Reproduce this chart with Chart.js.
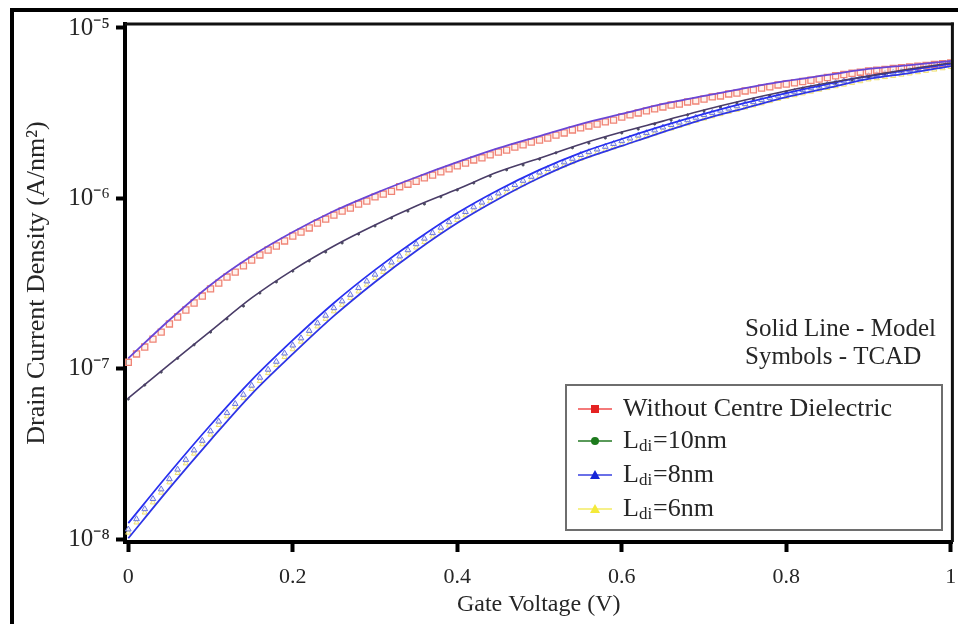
<!DOCTYPE html>
<html>
<head>
<meta charset="utf-8">
<title>Drain Current Density vs Gate Voltage</title>
<script src="https://cdn.jsdelivr.net/npm/chart.js@4.4.0/dist/chart.umd.min.js"></script>
<style>
  html, body { margin: 0; padding: 0; background: #fff; }
  #wrap { position: relative; width: 958px; height: 624px; }
</style>
</head>
<body>
<div id="wrap"><canvas id="idChart" width="958" height="624"></canvas></div>
<script>
// ======= data =======
const seriesNames = ['Without Centre Dielectric', 'Ldi=10nm', 'Ldi=8nm', 'Ldi=6nm'];

const xTicks = [0, 0.2, 0.4, 0.6, 0.8, 1];
const yTicks = [1e-8, 1e-7, 1e-6, 1e-5];
const yTickLabels = ['10⁻⁸', '10⁻⁷', '10⁻⁶', '10⁻⁵'];

// model (solid lines)
const vgModel = [0, 0.05, 0.1, 0.15, 0.2, 0.25, 0.3, 0.35, 0.4, 0.45, 0.5,
                 0.55, 0.6, 0.65, 0.7, 0.75, 0.8, 0.85, 0.9, 0.95, 1];
const modelNoDiel = [1.15e-7, 1.93e-7, 3.10e-7, 4.58e-7, 6.34e-7, 8.42e-7, 1.07e-6, 1.33e-6, 1.63e-6, 1.97e-6, 2.32e-6,
                     2.73e-6, 3.13e-6, 3.58e-6, 3.99e-6, 4.44e-6, 4.89e-6, 5.30e-6, 5.75e-6, 6.06e-6, 6.40e-6];
const model10 = [6.72e-8, 1.06e-7, 1.66e-7, 2.60e-7, 3.79e-7, 5.25e-7, 6.97e-7, 9.01e-7, 1.13e-6, 1.43e-6, 1.72e-6,
                 2.08e-6, 2.45e-6, 2.84e-6, 3.30e-6, 3.78e-6, 4.27e-6, 4.75e-6, 5.22e-6, 5.75e-6, 6.23e-6];
const model8 = [1.24e-8, 2.44e-8, 4.67e-8, 8.57e-8, 1.47e-7, 2.43e-7, 3.80e-7, 5.69e-7, 8.20e-7, 1.12e-6, 1.47e-6,
                1.85e-6, 2.23e-6, 2.66e-6, 3.13e-6, 3.63e-6, 4.15e-6, 4.69e-6, 5.22e-6, 5.67e-6, 6.15e-6];
const model6 = [1.01e-8, 1.99e-8, 3.81e-8, 7.10e-8, 1.22e-7, 2.04e-7, 3.23e-7, 4.91e-7, 7.16e-7, 9.91e-7, 1.32e-6,
                1.68e-6, 2.03e-6, 2.45e-6, 2.92e-6, 3.39e-6, 3.93e-6, 4.44e-6, 5.02e-6, 5.44e-6, 5.98e-6];

// TCAD (symbols), 0.01 V spacing
const vgTcad = [0, 0.01, 0.02, 0.03, 0.04, 0.05, 0.06, 0.07, 0.08, 0.09, 0.1, 0.11, 0.12, 0.13, 0.14, 0.15, 0.16,
                0.17, 0.18, 0.19, 0.2, 0.21, 0.22, 0.23, 0.24, 0.25, 0.26, 0.27, 0.28, 0.29, 0.3, 0.31, 0.32, 0.33,
                0.34, 0.35, 0.36, 0.37, 0.38, 0.39, 0.4, 0.41, 0.42, 0.43, 0.44, 0.45, 0.46, 0.47, 0.48, 0.49, 0.5,
                0.51, 0.52, 0.53, 0.54, 0.55, 0.56, 0.57, 0.58, 0.59, 0.6, 0.61, 0.62, 0.63, 0.64, 0.65, 0.66, 0.67,
                0.68, 0.69, 0.7, 0.71, 0.72, 0.73, 0.74, 0.75, 0.76, 0.77, 0.78, 0.79, 0.8, 0.81, 0.82, 0.83, 0.84,
                0.85, 0.86, 0.87, 0.88, 0.89, 0.9, 0.91, 0.92, 0.93, 0.94, 0.95, 0.96, 0.97, 0.98, 0.99, 1];
const tcadNoDiel = [1.09e-7, 1.22e-7, 1.34e-7, 1.49e-7, 1.64e-7, 1.83e-7, 2.01e-7, 2.21e-7, 2.43e-7, 2.67e-7,
                    2.94e-7, 3.18e-7, 3.45e-7, 3.69e-7, 4.01e-7, 4.34e-7, 4.65e-7, 4.97e-7, 5.25e-7, 5.62e-7,
                    6.01e-7, 6.34e-7, 6.70e-7, 7.16e-7, 7.56e-7, 7.98e-7, 8.42e-7, 8.77e-7, 9.26e-7, 9.64e-7,
                    1.02e-6, 1.06e-6, 1.10e-6, 1.17e-6, 1.21e-6, 1.26e-6, 1.32e-6, 1.37e-6, 1.43e-6, 1.49e-6,
                    1.55e-6, 1.61e-6, 1.68e-6, 1.73e-6, 1.80e-6, 1.87e-6, 1.92e-6, 2.00e-6, 2.06e-6, 2.14e-6,
                    2.20e-6, 2.26e-6, 2.35e-6, 2.42e-6, 2.52e-6, 2.59e-6, 2.66e-6, 2.73e-6, 2.81e-6, 2.88e-6,
                    3.00e-6, 3.09e-6, 3.17e-6, 3.26e-6, 3.35e-6, 3.44e-6, 3.53e-6, 3.58e-6, 3.68e-6, 3.73e-6,
                    3.83e-6, 3.94e-6, 3.99e-6, 4.10e-6, 4.15e-6, 4.27e-6, 4.33e-6, 4.44e-6, 4.51e-6, 4.63e-6,
                    4.69e-6, 4.77e-6, 4.85e-6, 4.93e-6, 5.01e-6, 5.12e-6, 5.24e-6, 5.33e-6, 5.42e-6, 5.50e-6,
                    5.59e-6, 5.65e-6, 5.72e-6, 5.78e-6, 5.84e-6, 5.90e-6, 5.97e-6, 6.03e-6, 6.10e-6, 6.17e-6, 6.23e-6];
const tcad8 = [1.14e-8, 1.31e-8, 1.50e-8, 1.72e-8, 1.96e-8, 2.25e-8, 2.56e-8, 2.92e-8, 3.32e-8, 3.78e-8,
               4.30e-8, 4.90e-8, 5.50e-8, 6.22e-8, 7.04e-8, 7.96e-8, 8.87e-8, 9.88e-8, 1.10e-7, 1.23e-7,
               1.37e-7, 1.51e-7, 1.67e-7, 1.85e-7, 2.05e-7, 2.27e-7, 2.49e-7, 2.72e-7, 2.98e-7, 3.26e-7,
               3.57e-7, 3.88e-7, 4.21e-7, 4.57e-7, 4.97e-7, 5.39e-7, 5.81e-7, 6.26e-7, 6.74e-7, 7.26e-7,
               7.82e-7, 8.33e-7, 8.88e-7, 9.46e-7, 1.01e-6, 1.07e-6, 1.14e-6, 1.20e-6, 1.27e-6, 1.34e-6,
               1.42e-6, 1.49e-6, 1.56e-6, 1.63e-6, 1.71e-6, 1.80e-6, 1.87e-6, 1.94e-6, 2.01e-6, 2.09e-6,
               2.17e-6, 2.25e-6, 2.34e-6, 2.42e-6, 2.51e-6, 2.61e-6, 2.70e-6, 2.79e-6, 2.88e-6, 2.98e-6,
               3.09e-6, 3.18e-6, 3.28e-6, 3.37e-6, 3.48e-6, 3.58e-6, 3.68e-6, 3.79e-6, 3.90e-6, 4.01e-6,
               4.13e-6, 4.23e-6, 4.33e-6, 4.44e-6, 4.55e-6, 4.66e-6, 4.77e-6, 4.88e-6, 4.99e-6, 5.11e-6,
               5.23e-6, 5.31e-6, 5.40e-6, 5.49e-6, 5.58e-6, 5.67e-6, 5.77e-6, 5.87e-6, 5.98e-6, 6.08e-6, 6.19e-6];
const tcad6 = [1.09e-8, 1.25e-8, 1.43e-8, 1.64e-8, 1.87e-8, 2.15e-8, 2.44e-8, 2.78e-8, 3.17e-8, 3.60e-8,
               4.10e-8, 4.67e-8, 5.25e-8, 5.94e-8, 6.71e-8, 7.59e-8, 8.46e-8, 9.42e-8, 1.05e-7, 1.17e-7,
               1.30e-7, 1.44e-7, 1.60e-7, 1.77e-7, 1.96e-7, 2.17e-7, 2.37e-7, 2.60e-7, 2.84e-7, 3.11e-7,
               3.41e-7, 3.70e-7, 4.02e-7, 4.36e-7, 4.74e-7, 5.14e-7, 5.54e-7, 5.97e-7, 6.43e-7, 6.92e-7,
               7.46e-7, 7.95e-7, 8.47e-7, 9.02e-7, 9.61e-7, 1.02e-6, 1.08e-6, 1.14e-6, 1.21e-6, 1.28e-6,
               1.35e-6, 1.42e-6, 1.49e-6, 1.56e-6, 1.63e-6, 1.71e-6, 1.78e-6, 1.85e-6, 1.92e-6, 1.99e-6,
               2.07e-6, 2.15e-6, 2.23e-6, 2.31e-6, 2.40e-6, 2.49e-6, 2.57e-6, 2.66e-6, 2.75e-6, 2.85e-6,
               2.94e-6, 3.03e-6, 3.12e-6, 3.22e-6, 3.31e-6, 3.41e-6, 3.51e-6, 3.61e-6, 3.72e-6, 3.83e-6,
               3.94e-6, 4.03e-6, 4.13e-6, 4.23e-6, 4.34e-6, 4.44e-6, 4.55e-6, 4.65e-6, 4.76e-6, 4.87e-6,
               4.99e-6, 5.07e-6, 5.15e-6, 5.23e-6, 5.32e-6, 5.41e-6, 5.50e-6, 5.60e-6, 5.70e-6, 5.80e-6, 5.90e-6];

// TCAD for Ldi=10nm, 0.02 V spacing (small dots, hidden under the line)
const vgTcad10 = [0, 0.02, 0.04, 0.06, 0.08, 0.1, 0.12, 0.14, 0.16, 0.18, 0.2, 0.22, 0.24, 0.26, 0.28, 0.3, 0.32,
                  0.34, 0.36, 0.38, 0.4, 0.42, 0.44, 0.46, 0.48, 0.5, 0.52, 0.54, 0.56, 0.58, 0.6, 0.62, 0.64, 0.66,
                  0.68, 0.7, 0.72, 0.74, 0.76, 0.78, 0.8, 0.82, 0.84, 0.86, 0.88, 0.9, 0.92, 0.94, 0.96, 0.98, 1];
const tcad10 = [6.63e-8, 8.01e-8, 9.55e-8, 1.15e-7, 1.38e-7, 1.64e-7, 1.96e-7, 2.33e-7, 2.78e-7, 3.23e-7,
                3.74e-7, 4.29e-7, 4.84e-7, 5.47e-7, 6.17e-7, 6.88e-7, 7.66e-7, 8.42e-7, 9.26e-7, 1.02e-6,
                1.12e-6, 1.23e-6, 1.35e-6, 1.47e-6, 1.57e-6, 1.70e-6, 1.85e-6, 1.98e-6, 2.11e-6, 2.26e-6,
                2.42e-6, 2.55e-6, 2.73e-6, 2.88e-6, 3.09e-6, 3.26e-6, 3.44e-6, 3.63e-6, 3.83e-6, 3.99e-6,
                4.21e-6, 4.39e-6, 4.57e-6, 4.76e-6, 4.95e-6, 5.16e-6, 5.37e-6, 5.59e-6, 5.75e-6, 5.98e-6, 6.15e-6];

// ======= styles =======
const FONT = '"Liberation Serif", "Times New Roman", serif';
const TEXT = '#262626';

const pts = (xs, ys) => xs.map((x, i) => ({ x: x, y: ys[i] }));

const tcadSets = [
  { xs: vgTcad, data: tcadNoDiel, style: 'rect', r: 4.3, border: '#f08476', fill: 'rgba(255,235,225,0.6)', bw: 1.3 },
  { xs: vgTcad10, data: tcad10, style: 'circle', r: 1.1, border: '#4a4a5e', fill: '#4a4a5e', bw: 1 },
  { xs: vgTcad, data: tcad8, style: 'triangle', r: 3.3, border: '#6d78e0', fill: 'rgba(235,238,255,0.7)', bw: 1 },
  { xs: vgTcad, data: tcad6, style: 'triangle', r: 3.0, border: '#efe070', fill: 'rgba(255,252,215,0.5)', bw: 1 }
];
const modelSets = [
  { data: modelNoDiel, color: '#6a46d6', width: 1.8 },
  { data: model10, color: '#4a3d68', width: 1.6 },
  { data: model8, color: '#2830f0', width: 1.8 },
  { data: model6, color: '#2f36e6', width: 1.8 }
];

// legend symbols
const legendColors = [
  { line: '#f47a7a', mark: '#e52222', style: 'rect' },
  { line: '#5a9a5a', mark: '#1d7a1d', style: 'circle' },
  { line: '#6a70e8', mark: '#1525d8', style: 'triangle' },
  { line: '#f6f08a', mark: '#f4ea3a', style: 'triangle' }
];

const datasets = [];
tcadSets.forEach((s, i) => {
  datasets.push({
    label: seriesNames[i] + ' (TCAD)',
    data: pts(s.xs, s.data),
    showLine: false,
    pointStyle: s.style,
    pointRadius: s.r,
    pointBorderWidth: s.bw,
    pointBorderColor: s.border,
    pointBackgroundColor: s.fill,
    order: 2
  });
});
modelSets.forEach((s, i) => {
  datasets.push({
    label: seriesNames[i] + ' (Model)',
    data: pts(vgModel, s.data),
    borderColor: s.color,
    borderWidth: s.width,
    pointRadius: 0,
    fill: false,
    cubicInterpolationMode: 'monotone',
    order: 1
  });
});

// ======= plugin: frame, note and legend box =======
const decorPlugin = {
  id: 'decor',
  afterDraw(chart) {
    const ctx = chart.ctx;
    const a = chart.chartArea;
    ctx.save();

    // outer picture frame (left + top)
    ctx.fillStyle = '#000';
    ctx.fillRect(10, 8, 948, 4);
    ctx.fillRect(10, 8, 4, 616);

    // plot box top + right
    ctx.fillStyle = '#111';
    ctx.fillRect(a.left, a.top - 1.5, a.right - a.left + 1.5, 3);
    ctx.fillRect(a.right - 1.5, a.top - 1.5, 3, a.bottom - a.top + 1.5);

    // note
    ctx.fillStyle = TEXT;
    ctx.font = '25px ' + FONT;
    ctx.textBaseline = 'middle';
    ctx.textAlign = 'left';
    ctx.fillText('Solid Line - Model', 745, 329);
    ctx.fillText('Symbols - TCAD', 745, 357);

    // legend box
    const bx = 566, by = 385, bw = 376, bh = 145;
    ctx.fillStyle = '#fff';
    ctx.fillRect(bx, by, bw, bh);
    ctx.strokeStyle = '#6e6e6e';
    ctx.lineWidth = 2;
    ctx.strokeRect(bx, by, bw, bh);

    const rows = [409, 441, 475, 509];
    seriesNames.forEach((name, i) => {
      const y = rows[i];
      const c = legendColors[i];
      ctx.strokeStyle = c.line;
      ctx.lineWidth = 2;
      ctx.beginPath();
      ctx.moveTo(578, y);
      ctx.lineTo(612, y);
      ctx.stroke();
      ctx.fillStyle = c.mark;
      ctx.beginPath();
      if (c.style === 'rect') ctx.rect(591, y - 4, 8, 8);
      else if (c.style === 'circle') ctx.arc(595, y, 4, 0, Math.PI * 2);
      else { ctx.moveTo(595, y - 5); ctx.lineTo(600, y + 4); ctx.lineTo(590, y + 4); ctx.closePath(); }
      ctx.fill();

      ctx.fillStyle = TEXT;
      ctx.textBaseline = 'middle';
      ctx.font = '26px ' + FONT;
      if (name.startsWith('Ldi')) {
        ctx.fillText('L', 623, y);
        let x = 623 + ctx.measureText('L').width;
        ctx.font = '17px ' + FONT;
        ctx.fillText('di', x, y + 6);
        x += ctx.measureText('di').width + 1;
        ctx.font = '26px ' + FONT;
        ctx.fillText(name.slice(3), x, y);
      } else {
        ctx.fillText(name, 623, y);
      }
    });
    ctx.restore();
  }
};

// ======= Chart.js =======
new Chart(document.getElementById('idChart'), {
  type: 'line',
  data: { datasets: datasets },
  plugins: [decorPlugin],
  options: {
    responsive: false,
    animation: false,
    layout: { padding: { left: 14, top: 24, right: 5, bottom: 0 } },
    plugins: { legend: { display: false }, tooltip: { enabled: false } },
    scales: {
      x: {
        type: 'linear',
        min: -0.004,
        max: 1.002,
        afterBuildTicks: s => { s.ticks = xTicks.map(v => ({ value: v })); },
        afterFit: s => { s.height = 82; s.paddingLeft = 0; s.paddingRight = 0; },
        border: { display: true, color: '#000', width: 4 },
        grid: { drawOnChartArea: false, drawTicks: true, tickLength: 10, tickWidth: 4, tickColor: '#000' },
        ticks: { font: { family: FONT, size: 22 }, color: TEXT, padding: 12, maxRotation: 0,
                 callback: (v, i) => String(xTicks[i]) },
        title: { display: true, text: 'Gate Voltage (V)', color: TEXT,
                 font: { family: FONT, size: 24 }, padding: { top: 0, bottom: 5 } }
      },
      y: {
        type: 'logarithmic',
        min: 0.9603e-8,
        max: 1.0555e-5,
        afterBuildTicks: s => { s.ticks = yTicks.map(v => ({ value: v })); },
        afterFit: s => { s.width = 111; s.paddingTop = 0; s.paddingBottom = 0; },
        border: { display: true, color: '#000', width: 4 },
        grid: { drawOnChartArea: false, drawTicks: true, tickLength: 9, tickWidth: 4, tickColor: '#000' },
        ticks: { font: { family: FONT, size: 25 }, color: TEXT, padding: 6,
                 callback: (v, i) => yTickLabels[i] },
        title: { display: true, text: 'Drain Current Density (A/nm²)', color: TEXT,
                 font: { family: FONT, size: 26 }, padding: { top: 8, bottom: 0 } }
      }
    }
  }
});
</script>
</body>
</html>
